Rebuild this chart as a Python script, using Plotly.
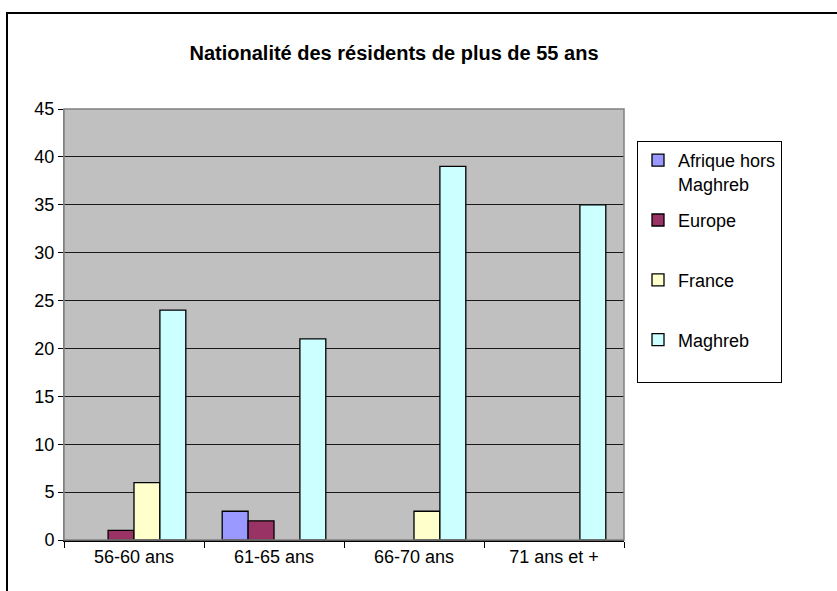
import plotly.graph_objects as go

# data (None = empty cell, no bar drawn)
categories = ["56-60 ans", "61-65 ans", "66-70 ans", "71 ans et +"]
series_names = ["Afrique hors<br>Maghreb", "Europe<br> ", "France<br> ", "Maghreb<br> "]
afrique = [None, 3, None, None]
europe = [1, 2, None, None]
france = [6, None, 3, None]
maghreb = [24, 21, 39, 35]
colors = ["#9999FF", "#993366", "#FFFFCC", "#CCFFFF"]

W, H = 837, 591
L, R, T, B = 64, 624, 109, 540  # plot-area box in page pixels


def px_x(x):
    return (x - L) / (R - L)


def px_y(y):
    return (B - y) / (B - T)


fig = go.Figure()
for i, (name, vals) in enumerate(zip(series_names, [afrique, europe, france, maghreb])):
    fig.add_trace(go.Bar(
        x=categories, y=vals, name=name,
        marker=dict(color=colors[i], line=dict(color="black", width=1.3)),
        legendgroup=f"g{i}",
    ))

fig.update_layout(
    width=W, height=H,
    margin=dict(l=L, r=W - R, t=T, b=H - B),
    paper_bgcolor="white",
    plot_bgcolor="#C0C0C0",
    font=dict(family="Liberation Sans, Arial, sans-serif", size=18, color="black"),
    title=dict(text="<b>Nationalité des résidents de plus de 55 ans</b>",
               x=px_x(394), xanchor="center", xref="paper",
               y=1 - 53 / H, yanchor="middle", font=dict(size=20)),
    barmode="group",
    bargap=0.26,
    bargroupgap=0,
    showlegend=True,
    legend=dict(
        x=px_x(637), y=px_y(141), xanchor="left", yanchor="top",
        bordercolor="black", borderwidth=1, bgcolor="white",
        traceorder="grouped", tracegroupgap=10, itemwidth=30, valign="top",
        font=dict(size=18),
        itemclick=False,
    ),
)

fig.update_yaxes(
    range=[0, 45], dtick=5, showgrid=True, gridcolor="#1a1a1a", gridwidth=1,
    showline=True, linecolor="#808080", linewidth=1,
    ticks="outside", ticklen=5, tickcolor="black", zeroline=False,
)
fig.update_xaxes(
    showgrid=False, showline=True, linecolor="black", linewidth=1.5,
    ticks="outside", ticklen=6, tickcolor="black", tickson="boundaries",
)

# plot-area border (top/right) and outer chart frame
fig.add_shape(type="rect", xref="paper", yref="paper", x0=0, y0=0, x1=1, y1=1,
              line=dict(color="#808080", width=1.5), layer="above")
fig.add_shape(type="rect", xref="paper", yref="paper",
              x0=px_x(7), y0=px_y(600), x1=px_x(850), y1=px_y(13),
              line=dict(color="black", width=2), layer="above")

# drop the default page margin so the figure sits at the window origin
fig.write_html("out.html", config={"displayModeBar": False},
               post_script="document.body.style.margin='0';")
